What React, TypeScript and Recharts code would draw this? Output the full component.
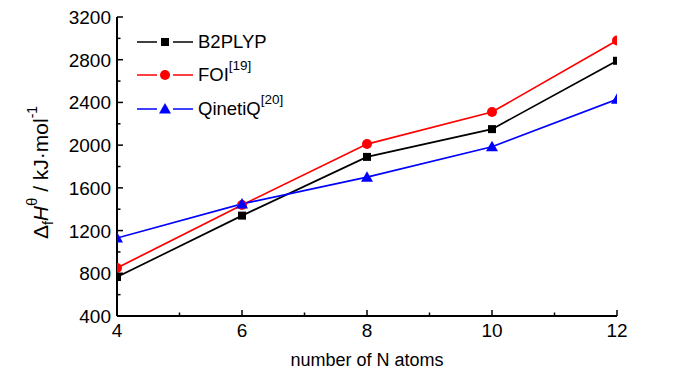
import React from 'react';
import { LineChart, Line, XAxis, YAxis, Legend } from 'recharts';

// values
const atoms = [4, 6, 8, 10, 12];
const b2plyp = [765, 1340, 1890, 2150, 2790];
const foi = [850, 1440, 2010, 2310, 2980];
const qinetiq = [1130, 1450, 1700, 1985, 2430];

const xTicks = [4, 5, 6, 7, 8, 9, 10, 11, 12];
const yTicks = [400, 600, 800, 1000, 1200, 1400, 1600, 1800, 2000, 2200, 2400, 2600, 2800, 3000, 3200];

const data = atoms.map((n, i) => ({ n, b2plyp: b2plyp[i], foi: foi[i], qinetiq: qinetiq[i] }));

const series = [
    { key: 'b2plyp', name: 'B2PLYP', sup: '', color: '#000000', shape: 'square' },
    { key: 'foi', name: 'FOI', sup: '[19]', color: '#ff0000', shape: 'circle' },
    { key: 'qinetiq', name: 'QinetiQ', sup: '[20]', color: '#0000ff', shape: 'triangle' },
];

const FONT = "'Liberation Sans', Arial, sans-serif";

// chart frame
const W = 700;
const H = 374;
const MARGIN = { top: 17, right: 83, bottom: 0, left: 0 };
const Y_AXIS_W = 117;
const X_AXIS_H = 58;
const PLOT = {
    x: MARGIN.left + Y_AXIS_W,
    y: MARGIN.top,
    width: W - MARGIN.left - MARGIN.right - Y_AXIS_W,
    height: H - MARGIN.top - MARGIN.bottom - X_AXIS_H,
};

function Marker({ shape, cx, cy, color }: { shape: string; cx: number; cy: number; color: string }) {
    if (shape === 'square') return <rect x={cx - 4} y={cy - 4} width={8} height={8} fill={color} />;
    if (shape === 'circle') return <circle cx={cx} cy={cy} r={5} fill={color} />;
    return <polygon points={`${cx},${cy - 6} ${cx + 6},${cy + 4.5} ${cx - 6},${cy + 4.5}`} fill={color} />;
}

// markers at the frame edges are cut in the original
const ClippedDot = (props: any) => {
    const { id, shape, cx, cy, color } = props;
    return (
        <g>
            <defs>
                <clipPath id={id}>
                    <rect x={PLOT.x} y={PLOT.y} width={PLOT.width} height={PLOT.height} />
                </clipPath>
            </defs>
            <g clipPath={`url(#${id})`}>
                <Marker shape={shape} cx={cx} cy={cy} color={color} />
            </g>
        </g>
    );
};

// inward ticks; major ones carry labels
const BottomTick = (props: any) => {
    const { x, y, payload } = props;
    const major = payload.value % 2 === 0;
    return (
        <g>
            <line x1={x} x2={x} y1={y} y2={y - (major ? 6 : 3.5)} stroke="#000" strokeWidth={1.5} />
            {major && (
                <text x={x} y={y + 21} textAnchor="middle" fontSize={19} fontFamily={FONT} fill="#000">
                    {payload.value}
                </text>
            )}
        </g>
    );
};

const TopTick = (props: any) => {
    const { x, y, payload } = props;
    const major = payload.value % 2 === 0;
    return <line x1={x} x2={x} y1={y} y2={y + (major ? 6 : 3.5)} stroke="#000" strokeWidth={1.5} />;
};

const LeftTick = (props: any) => {
    const { x, y, payload } = props;
    const major = payload.value % 400 === 0;
    return (
        <g>
            <line x1={x} x2={x + (major ? 6 : 3.5)} y1={y} y2={y} stroke="#000" strokeWidth={1.5} />
            {major && (
                <text x={x - 6} y={y + 7} textAnchor="end" fontSize={19} fontFamily={FONT} fill="#000">
                    {payload.value}
                </text>
            )}
        </g>
    );
};

const RightTick = (props: any) => {
    const { x, y, payload } = props;
    const major = payload.value % 400 === 0;
    return <line x1={x} x2={x - (major ? 6 : 3.5)} y1={y} y2={y} stroke="#000" strokeWidth={1.5} />;
};

const YLabel = (props: any) => {
    const { viewBox } = props;
    const cx = viewBox.x + 48;
    const cy = viewBox.y + viewBox.height / 2 + 6;
    return (
        <text
            x={cx}
            y={cy}
            transform={`rotate(-90 ${cx} ${cy})`}
            textAnchor="middle"
            fontSize={21}
            fontFamily={FONT}
            fill="#000"
        >
            <tspan>Δ</tspan>
            <tspan fontSize={14} dy={5}>f</tspan>
            <tspan fontStyle="italic" dy={-5}>H</tspan>
            <tspan fontSize={15} dy={-11}>θ</tspan>
            <tspan dy={11}> / kJ·mol</tspan>
            <tspan fontSize={14} dy={-11}>-1</tspan>
        </text>
    );
};

const renderLegend = () => (
    <div style={{ fontFamily: FONT, fontSize: 18.5, color: '#000' }}>
        {series.map((s) => (
            <div key={s.key} style={{ display: 'flex', alignItems: 'center', height: 33.5 }}>
                <svg width={56} height={14} style={{ marginRight: 5 }}>
                    <line x1={0} x2={56} y1={7} y2={7} stroke={s.color} strokeWidth={1.7} />
                    <rect x={20} y={0} width={16} height={14} fill="#fff" />
                    <Marker shape={s.shape} cx={28} cy={7} color={s.color} />
                </svg>
                <span>
                    {s.name}
                    {s.sup && (
                        <span style={{ fontSize: 13.5, position: 'relative', top: -11 }}>{s.sup}</span>
                    )}
                </span>
            </div>
        ))}
    </div>
);

export default function App() {
    return (
        <div style={{ position: 'absolute', left: 0, top: 0, width: W, height: H, background: '#fff' }}>
            <LineChart width={W} height={H} data={data} margin={MARGIN}>
                <XAxis
                    xAxisId="b"
                    dataKey="n"
                    type="number"
                    domain={[4, 12]}
                    ticks={xTicks}
                    interval={0}
                    allowDataOverflow
                    height={X_AXIS_H}
                    tickSize={0}
                    tickMargin={0}
                    tickLine={false}
                    tick={<BottomTick />}
                    axisLine={{ stroke: '#000', strokeWidth: 2 }}
                    label={{
                        value: 'number of N atoms',
                        position: 'insideBottom',
                        offset: 8,
                        fontSize: 18,
                        fontFamily: FONT,
                        fill: '#000',
                    }}
                />
                <XAxis
                    xAxisId="t"
                    orientation="top"
                    dataKey="n"
                    type="number"
                    domain={[4, 12]}
                    ticks={xTicks}
                    interval={0}
                    height={0}
                    tickSize={0}
                    tickMargin={0}
                    tickLine={false}
                    tick={<TopTick />}
                    axisLine={{ stroke: '#000', strokeWidth: 2 }}
                />
                <YAxis
                    yAxisId="l"
                    type="number"
                    domain={[400, 3200]}
                    ticks={yTicks}
                    interval={0}
                    allowDataOverflow
                    width={Y_AXIS_W}
                    tickSize={0}
                    tickMargin={0}
                    tickLine={false}
                    tick={<LeftTick />}
                    axisLine={{ stroke: '#000', strokeWidth: 2 }}
                    label={{ content: <YLabel /> }}
                />
                <YAxis
                    yAxisId="r"
                    orientation="right"
                    type="number"
                    domain={[400, 3200]}
                    ticks={yTicks}
                    interval={0}
                    width={0}
                    tickSize={0}
                    tickMargin={0}
                    tickLine={false}
                    tick={<RightTick />}
                    axisLine={{ stroke: '#000', strokeWidth: 2 }}
                />
                <Legend
                    layout="horizontal"
                    verticalAlign="middle"
                    align="center"
                    content={renderLegend}
                    wrapperStyle={{ left: 137, top: 25, width: 'auto' }}
                />
                {series.map((s) => (
                    <Line
                        key={s.key}
                        xAxisId="b"
                        yAxisId="l"
                        dataKey={s.key}
                        name={s.name}
                        stroke={s.color}
                        strokeWidth={1.7}
                        isAnimationActive={false}
                        dot={(p: any) => (
                            <ClippedDot
                                key={`${s.key}-${p.index}`}
                                id={`clip-${s.key}-${p.index}`}
                                shape={s.shape}
                                cx={p.cx}
                                cy={p.cy}
                                color={s.color}
                            />
                        )}
                        activeDot={false}
                    />
                ))}
            </LineChart>
        </div>
    );
}
